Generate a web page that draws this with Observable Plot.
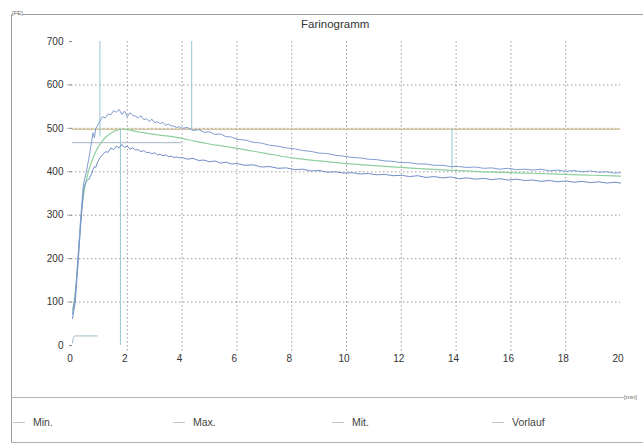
<!DOCTYPE html>
<html>
<head>
<meta charset="utf-8">
<script src="https://cdn.jsdelivr.net/npm/d3@7"></script>
<script src="https://cdn.jsdelivr.net/npm/@observablehq/plot@0.6"></script>
<style>
  body { margin: 0; background: #fff; font-family: "Liberation Sans", Arial, sans-serif; }
  #page { position: relative; width: 643px; height: 446px; overflow: hidden; background: #fff; }
  #frame { position: absolute; left: 11px; top: 14px; width: 640px; height: 427px;
           border-top: 1px solid #9c9c9c; border-left: 1px solid #9c9c9c; border-bottom: 1px solid #b0b0b0; }
  #sep { position: absolute; left: 12px; top: 397px; width: 620px; height: 0; border-top: 1px solid #b4b4b4; }
  #unitY { position: absolute; left: 12px; top: 10px; font-size: 6px; color: #666; background: #fff; }
  #unitX { position: absolute; left: 624px; top: 394px; font-size: 6px; color: #666; white-space: nowrap; background: #fff; }
  #title { position: absolute; left: 301px; top: 18px; font-size: 11.5px; color: #333; }
  #chart { position: absolute; left: 0; top: 0; }
  .key { position: absolute; top: 416px; font-size: 10.5px; color: #444; white-space: nowrap; }
  .key i { display: inline-block; width: 12px; height: 0; border-top: 1px solid; vertical-align: middle; margin-right: 8px; position: relative; top: -1px; }
</style>
</head>
<body>
<div id="page">
  <div id="frame"></div>
  <div id="sep"></div>
  <div id="unitY">[FE]</div>
  <div id="unitX">[min]</div>
  <div id="title">Farinogramm</div>
  <div id="chart"></div>
  <div id="legend"></div>
</div>
<script>
// Farinograph consistency curves (FE) over time (min)
const maxMinutes = [0, 0.1, 0.2, 0.3, 0.4, 0.5, 0.6, 0.7, 0.75, 0.8, 0.85, 0.9, 1.0, 1.1, 1.2, 1.3, 1.4, 1.5, 1.6, 1.7, 1.8, 1.9, 2.0, 2.1, 2.2, 2.3, 2.4, 2.5, 2.6, 2.7, 2.8, 2.9, 3.0, 3.1, 3.2, 3.3, 3.4, 3.5, 3.6, 3.7, 3.8, 3.9, 4.0, 4.2, 4.4, 4.6, 4.8, 5.0, 5.2, 5.4, 5.6, 5.8, 6.0, 6.3, 6.6, 6.9, 7.2, 7.5, 7.8, 8.1, 8.4, 8.7, 9.0, 9.3, 9.6, 9.9, 10.2, 10.5, 10.8, 11.1, 11.4, 11.7, 12.0, 12.3, 12.6, 12.9, 13.2, 13.5, 13.8, 14.1, 14.4, 14.7, 15.0, 15.3, 15.6, 15.9, 16.2, 16.5, 16.8, 17.1, 17.4, 17.7, 18.0, 18.3, 18.6, 18.9, 19.2, 19.5, 19.8, 20.0];
const maxValue = [72, 115, 200, 295, 372, 398, 432, 470, 490, 478, 500, 505, 517, 527, 524, 533, 531, 541, 537, 544, 532, 540, 527, 536, 530, 528, 524, 529, 520, 522, 516, 521, 513, 515, 511, 514, 507, 510, 506, 505, 502, 504, 500, 502, 495, 497, 491, 492, 486, 487, 481, 480, 475, 473, 468, 466, 461, 459, 455, 453, 449, 447, 443, 442, 438, 436, 433, 432, 429, 428, 425, 424, 421, 421, 418, 418, 415, 415, 412, 412, 410, 411, 408, 409, 406, 408, 405, 406, 404, 406, 402, 404, 401, 403, 400, 402, 399, 400, 397, 398];

const minMinutes = maxMinutes;
const minValue = [62, 100, 185, 280, 360, 378, 383, 396, 405, 412, 410, 420, 432, 440, 446, 445, 455, 451, 459, 455, 463, 456, 459, 452, 455, 450, 451, 446, 449, 444, 445, 441, 444, 439, 440, 437, 439, 435, 436, 433, 434, 432, 433, 429, 431, 426, 427, 423, 425, 420, 422, 418, 419, 415, 416, 411, 412, 408, 409, 405, 406, 402, 403, 399, 400, 397, 398, 395, 396, 393, 394, 391, 392, 389, 391, 387, 389, 386, 388, 384, 386, 383, 385, 382, 384, 381, 383, 380, 381, 378, 380, 377, 379, 376, 378, 375, 377, 374, 376, 374];

const mitMinutes = [0, 0.1, 0.2, 0.3, 0.4, 0.5, 0.6, 0.8, 1.0, 1.2, 1.4, 1.6, 1.8, 2.0, 2.3, 2.6, 3.0, 3.5, 4.0, 4.5, 5.0, 5.5, 6.0, 7.0, 8.0, 9.0, 10.0, 11.0, 12.0, 13.0, 14.0, 15.0, 16.0, 17.0, 18.0, 19.0, 20.0];
const mitValue = [80, 120, 200, 285, 345, 380, 405, 440, 463, 479, 489, 495, 498, 497, 493, 490, 486, 482, 477, 470, 464, 459, 454, 443, 432, 425, 419, 414, 410, 406, 403, 400, 398, 396, 394, 392, 390];

const vorlaufMinutes = [0, 0.03, 0.08, 0.9];
const vorlaufValue = [6, 18, 22, 22];

// horizontal reference levels: consistency line and pre-run level
const refLevel = [498, 467];
const refStart = [0, 0];
const refEnd = [20, 4];

// vertical evaluation markers
const markerMinute = [1.0, 1.75, 4.35, 13.85];
const markerTop = [700, 495, 700, 498];
const markerBottom = [480, 0, 498, 405];

const xTicks = [0, 2, 4, 6, 8, 10, 12, 14, 16, 18, 20];
const xGrid = [2, 4, 6, 8, 10, 12, 14, 16, 18];
const yTicks = [0, 100, 200, 300, 400, 500, 600, 700];
const yGrid = [100, 200, 300, 400, 500, 600];

const seriesNames = ["Min.", "Max.", "Mit.", "Vorlauf"];
const seriesColors = ["#6f8dc8", "#7f9ccf", "#8fcf9e", "#9fbcc6"];

const toRows = (ts, vs) => ts.map((t, i) => ({t, v: vs[i]}));
const minRows = toRows(minMinutes, minValue);
const maxRows = toRows(maxMinutes, maxValue);
const mitRows = toRows(mitMinutes, mitValue);
const vorRows = toRows(vorlaufMinutes, vorlaufValue);
const refRows = refLevel.map((v, i) => ({v, x1: refStart[i], x2: refEnd[i]}));
const markerRows = markerMinute.map((t, i) => ({t, y1: markerTop[i], y2: markerBottom[i]}));

const chart = Plot.plot({
  width: 643,
  height: 380,
  marginLeft: 72,
  marginRight: 23,
  marginTop: 41,
  marginBottom: 35,
  style: {fontFamily: "Liberation Sans, Arial, sans-serif", fontSize: "10px", color: "#333", background: "transparent"},
  x: {domain: [0, 20]},
  y: {domain: [0, 700]},
  marks: [
    Plot.gridX(xGrid, {stroke: "#8a8a8a", strokeOpacity: 0.85, strokeDasharray: "1.5,2.5", insetBottom: -6}),
    Plot.gridY(yGrid, {stroke: "#8a8a8a", strokeOpacity: 0.85, strokeDasharray: "1.5,2.5", insetLeft: -5}),
    Plot.axisX(xTicks, {tickSize: 0, tickPadding: 9, dx: -2.5, label: null, fontSize: 10}),
    Plot.axisY(yTicks, {tickSize: 3, tickPadding: 6, label: null, fontSize: 10, stroke: "#888"}),
    Plot.ruleY(refRows, {y: "v", x1: "x1", x2: "x2", stroke: (d, i) => i === 0 ? "#d3c6a0" : "#a9b6c2", strokeWidth: (d, i) => i === 0 ? 1.4 : 1}),
    Plot.ruleX(markerRows, {x: "t", y1: "y1", y2: "y2", stroke: "#98c8d4", strokeWidth: 1}),
    Plot.line(vorRows, {x: "t", y: "v", stroke: seriesColors[3], strokeWidth: 1}),
    Plot.line(mitRows, {x: "t", y: "v", stroke: seriesColors[2], strokeWidth: 1.2, curve: "monotone-x"}),
    Plot.line(minRows, {x: "t", y: "v", stroke: seriesColors[0], strokeWidth: 1}),
    Plot.line(maxRows, {x: "t", y: "v", stroke: seriesColors[1], strokeWidth: 1})
  ]
});
document.getElementById("chart").append(chart);

// legend row under the separator
const keyLeft = [13, 173, 332, 492];
const legend = document.getElementById("legend");
seriesNames.forEach((name, i) => {
  const el = document.createElement("div");
  el.className = "key";
  el.style.left = keyLeft[i] + "px";
  el.innerHTML = `<i style="border-color:#c4c8cc"></i>${name}`;
  legend.append(el);
});
</script>
</body>
</html>
